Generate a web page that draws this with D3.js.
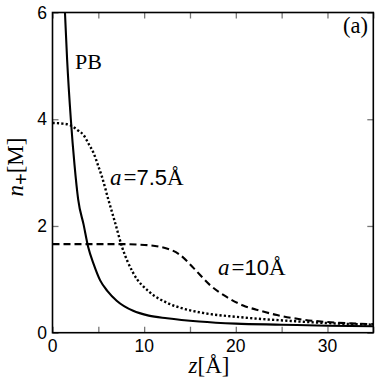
<!DOCTYPE html>
<html><head><meta charset="utf-8">
<script src="https://cdn.jsdelivr.net/npm/d3@7"></script>
<style>body{margin:0;background:#fff}</style>
</head><body>
<svg id="c" width="382" height="382"></svg>
<script>
// Data
const pbZ = [1.2, 1.36, 1.6, 2.0, 2.4, 2.8, 3.4, 3.9, 4.5, 5.2, 6.0, 7.0, 8.8, 10.5, 12.5, 16, 20, 25, 30, 35];
const pbN = [6.6, 6.0, 5.1, 4.0, 3.15, 2.5, 2.02, 1.6, 1.28, 0.98, 0.78, 0.6, 0.41, 0.32, 0.27, 0.21, 0.17, 0.15, 0.13, 0.12];
const a75Z = [0, 1, 1.9, 2.7, 3.4, 4.0, 4.5, 5.0, 5.4, 6.1, 6.8, 7.6, 8.8, 10.6, 12.5, 14.3, 16.1, 20.5, 26, 30, 35];
const a75N = [3.93, 3.92, 3.89, 3.8, 3.7, 3.52, 3.36, 3.12, 2.92, 2.49, 2.08, 1.6, 1.12, 0.76, 0.56, 0.45, 0.38, 0.29, 0.22, 0.18, 0.15];
const a10Z = [0, 5, 7.4, 9.5, 11.7, 13.9, 15.4, 17.2, 19.0, 20.8, 22.7, 24.5, 26.7, 30, 35];
const a10N = [1.66, 1.66, 1.66, 1.65, 1.61, 1.46, 1.21, 0.89, 0.67, 0.51, 0.41, 0.33, 0.26, 0.2, 0.16];
const xTicks = [0, 10, 20, 30];
const xMinorTicks = [0, 5, 10, 15, 20, 25, 30, 35];
const yTicks = [0, 2, 4, 6];

const svg = d3.select("#c");
const L = 52.5, R = 373.3, T = 12.5, B = 332.7;
const x = d3.scaleLinear().domain([0, 35]).range([L, R]);
const y = d3.scaleLinear().domain([0, 6]).range([B, T]);

svg.append("clipPath").attr("id", "clip").append("rect")
  .attr("x", L).attr("y", T).attr("width", R - L).attr("height", B - T);

const serif = "'Liberation Serif', 'Times New Roman', serif";
const sans = "'Liberation Sans', Arial, sans-serif";

// ticks
const tickCol = "#777";
const tl = 6;
const xb = svg.append("g").attr("transform", `translate(0,${B})`)
  .call(d3.axisBottom(x).tickValues(xMinorTicks).tickSize(-tl).tickFormat(""));
const xt = svg.append("g").attr("transform", `translate(0,${T})`)
  .call(d3.axisTop(x).tickValues(xMinorTicks).tickSize(-tl).tickFormat(""));
const yl = svg.append("g").attr("transform", `translate(${L},0)`)
  .call(d3.axisLeft(y).tickValues(yTicks).tickSize(-tl).tickFormat(""));
const yr = svg.append("g").attr("transform", `translate(${R},0)`)
  .call(d3.axisRight(y).tickValues(yTicks).tickSize(-tl).tickFormat(""));
[xb, xt, yl, yr].forEach(g => {
  g.select(".domain").remove();
  g.selectAll(".tick line").attr("stroke", tickCol).attr("stroke-width", 1.3);
});

// tick labels
svg.append("g").selectAll("text").data(xTicks).join("text")
  .attr("x", d => x(d)).attr("y", 352)
  .attr("text-anchor", "middle")
  .style("font-family", sans).style("font-size", "17.5px")
  .text(d => d);
svg.append("g").selectAll("text").data(yTicks).join("text")
  .attr("x", 47).attr("y", d => y(d) + 6)
  .attr("text-anchor", "end")
  .style("font-family", sans).style("font-size", "17.5px")
  .text(d => d);

// lines
const line = d3.line().x(d => x(d[0])).y(d => y(d[1])).curve(d3.curveMonotoneX);
const g = svg.append("g").attr("clip-path", "url(#clip)");
g.append("path").datum(d3.zip(a10Z, a10N)).attr("d", line)
  .attr("fill", "none").attr("stroke", "#000").attr("stroke-width", 2.1).attr("stroke-dasharray", "7,4");
g.append("path").datum(d3.zip(a75Z, a75N)).attr("d", line)
  .attr("fill", "none").attr("stroke", "#000").attr("stroke-width", 2.4).attr("stroke-dasharray", "2.2,2.2");
g.append("path").datum(d3.zip(pbZ, pbN)).attr("d", line)
  .attr("fill", "none").attr("stroke", "#000").attr("stroke-width", 2.1);

// frame
svg.append("rect").attr("x", L).attr("y", T).attr("width", R - L).attr("height", B - T)
  .attr("fill", "none").attr("stroke", "#000").attr("stroke-width", 1.6);

// axis titles
const xt2 = svg.append("text").attr("x", 209).attr("y", 373).attr("text-anchor", "middle")
  .style("font-family", serif).style("font-size", "23px");
xt2.append("tspan").style("font-style", "italic").text("z");
xt2.append("tspan").text("[Å]");

const yt = svg.append("text").attr("transform", "translate(23,167) rotate(-90)")
  .attr("text-anchor", "middle").style("font-family", serif).style("font-size", "23px");
yt.append("tspan").style("font-style", "italic").text("n");
yt.append("tspan").attr("dy", 5).style("font-size", "20px").style("font-family", sans).text("+");
yt.append("tspan").attr("dy", -5).text("[M]");

// annotations
svg.append("text").attr("x", 75).attr("y", 69).style("font-family", serif).style("font-size", "22px").text("PB");
svg.append("text").attr("x", 368).attr("y", 33).attr("text-anchor", "end")
  .style("font-family", serif).style("font-size", "22.5px").text("(a)");

function label(xp, yp, num) {
  const t = svg.append("text").attr("x", xp).attr("y", yp).style("font-size", "23px");
  t.append("tspan").style("font-family", serif).style("font-style", "italic").text("a");
  t.append("tspan").style("font-family", serif).attr("dx", 2).text("=");
  t.append("tspan").style("font-family", sans).style("font-size", "22px").text(num);
  t.append("tspan").style("font-family", serif).text("Å");
}
label(110, 185, "7.5");
label(218, 275, "10");
</script>
</body></html>
